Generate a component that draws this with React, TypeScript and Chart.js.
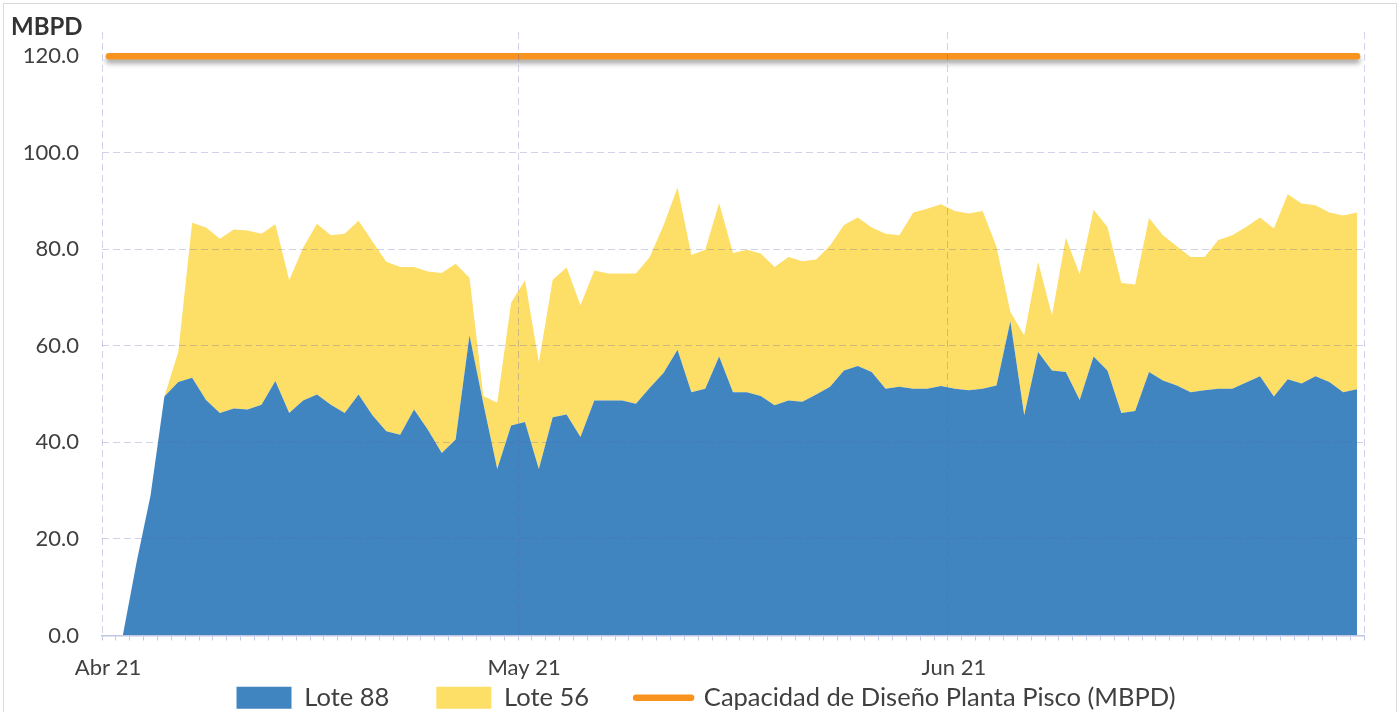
import React, { useEffect, useRef } from 'react';
import { Chart, registerables } from 'chart.js';

Chart.register(...registerables);

// ---- Data (MBPD per day, 2 Apr 2021 .. 30 Jun 2021) ----
const firstDayIndex = 1; // days counted from 1 Apr 2021
const lote88 = [
  0, 15.3, 29.0, 49.5, 52.5, 53.4, 48.8, 46.1, 47.0, 46.8,
  47.8, 52.7, 46.1, 48.7, 49.9, 47.8, 46.1, 49.9, 45.6, 42.3,
  41.6, 46.8, 42.6, 37.8, 40.6, 62.2, 48.0, 34.5, 43.5, 44.2,
  34.5, 45.2, 45.8, 41.1, 48.7, 48.7, 48.7, 48.0, 51.3, 54.4,
  59.2, 50.4, 51.1, 57.8, 50.4, 50.4, 49.6, 47.7, 48.7, 48.4,
  49.9, 51.5, 54.9, 55.8, 54.6, 51.1, 51.5, 51.1, 51.1, 51.7,
  51.1, 50.8, 51.1, 51.8, 65.1, 45.6, 58.7, 54.9, 54.6, 48.8,
  57.8, 54.9, 46.1, 46.5, 54.6, 52.8, 51.8, 50.4, 50.8, 51.1,
  51.1, 52.4, 53.7, 49.5, 53.1, 52.2, 53.7, 52.5, 50.4, 51.0,
];
const lote56 = [
  0, 0, 0, 0, 6.2, 32.1, 35.7, 36.1, 37.1, 37.1,
  35.4, 32.5, 27.5, 31.6, 35.4, 35.1, 37.1, 36.0, 36.0, 35.1,
  34.7, 29.5, 32.8, 37.3, 36.4, 11.9, 1.6, 13.7, 25.4, 29.4,
  22.1, 28.5, 30.4, 27.3, 26.9, 26.3, 26.3, 27.0, 27.1, 30.6,
  33.6, 28.4, 28.8, 31.8, 28.8, 29.5, 29.5, 28.6, 29.7, 29.1,
  28.0, 29.3, 30.1, 30.8, 29.9, 32.1, 31.4, 36.5, 37.3, 37.6,
  36.8, 36.6, 36.8, 28.7, 1.9, 16.6, 18.7, 11.4, 27.8, 26.0,
  30.4, 29.7, 26.9, 26.2, 31.9, 30.1, 28.8, 28.0, 27.6, 30.8,
  31.8, 32.2, 32.9, 34.8, 38.3, 37.3, 35.4, 35.1, 36.6, 36.6,
];
const capacidadDiseno = 120; // MBPD, constant design capacity
const capacidadFirstDay = 0;
const capacidadLastDay = 90;

// ---- Axis / labels ----
const totalDays = 91; // 1 Apr .. 1 Jul
const monthTickDays = [0, 30, 61, 91];
const monthTickLabels = ['Abr 21', 'May 21', 'Jun 21', ''];
const yTickValues = [0, 20, 40, 60, 80, 100, 120];
const yMax = 125;
const seriesLabels = ['Lote 88', 'Lote 56', 'Capacidad de Diseño Planta Pisco (MBPD)'];
const yUnit = 'MBPD';

// ---- Styles ----
const FONT = 'Lato, "Open Sans", "DejaVu Sans", sans-serif';
const BLUE = '#4185C0';
const YELLOW = '#FDDE66';
const ORANGE = '#F7931E';
const GRID = 'rgba(90, 90, 175, 0.28)';
const AXIS = '#BFC6E4';
const TEXT = '#404040';

const unitLabelPlugin = {
  id: 'unitLabel',
  afterDraw(chart: any) {
    const ctx = chart.ctx;
    ctx.save();
    ctx.font = `bold 24px ${FONT}`;
    ctx.fillStyle = '#333333';
    ctx.textAlign = 'left';
    ctx.textBaseline = 'middle';
    ctx.fillText(yUnit, 11, 27);
    ctx.restore();
  },
};

const lineShadowPlugin = {
  id: 'lineShadow',
  beforeDatasetDraw(chart: any, args: any) {
    if (args.index !== 2) return;
    const ctx = chart.ctx;
    ctx.save();
    ctx.shadowColor = 'rgba(0,0,0,0.35)';
    ctx.shadowBlur = 5;
    ctx.shadowOffsetY = 4;
  },
  afterDatasetDraw(chart: any, args: any) {
    if (args.index !== 2) return;
    chart.ctx.restore();
  },
};

// legend: reserve little layout space, then place it in the bottom band
const LEGEND_HEIGHT = 30.5;
const LEGEND_TOP = 638;
const LEGEND_SHIFT_X = 24;
const legendPlacePlugin = {
  id: 'legendPlace',
  beforeLayout(chart: any) {
    const lg = chart.legend;
    if (lg && !lg.__patched) {
      const orig = lg.fit.bind(lg);
      lg.fit = function () {
        orig();
        this.height = LEGEND_HEIGHT;
      };
      lg.__patched = true;
    }
  },
  afterLayout(chart: any) {
    const lg = chart.legend;
    if (!lg) return;
    lg.top = LEGEND_TOP;
    lg.bottom = chart.height;
    lg.height = chart.height - LEGEND_TOP;
    lg.left += LEGEND_SHIFT_X;
    lg.right += LEGEND_SHIFT_X;
  },
};

export default function App() {
  const ref = useRef<HTMLCanvasElement>(null);

  useEffect(() => {
    if (!ref.current) return;
    const pts88 = lote88.map((v, i) => ({ x: firstDayIndex + i + 0.5, y: v }));
    const pts56 = lote56.map((v, i) => ({ x: firstDayIndex + i + 0.5, y: v }));
    const capPts: { x: number; y: number }[] = [];
    for (let d = capacidadFirstDay; d <= capacidadLastDay; d++) capPts.push({ x: d + 0.5, y: capacidadDiseno });

    const chart = new Chart(ref.current, {
      type: 'line',
      data: {
        datasets: [
          {
            label: seriesLabels[0],
            data: pts88,
            backgroundColor: BLUE,
            borderColor: 'transparent',
            borderWidth: 0,
            fill: 'origin',
            pointRadius: 0,
            pointBorderWidth: 0,
            pointStyle: 'rect',
            tension: 0,
            stack: 'prod',
          },
          {
            label: seriesLabels[1],
            data: pts56,
            backgroundColor: YELLOW,
            borderColor: 'transparent',
            borderWidth: 0,
            fill: '-1',
            pointRadius: 0,
            pointBorderWidth: 0,
            pointStyle: 'rect',
            tension: 0,
            stack: 'prod',
          },
          {
            label: seriesLabels[2],
            data: capPts,
            backgroundColor: ORANGE,
            borderColor: ORANGE,
            borderWidth: 6.5,
            borderCapStyle: 'round',
            fill: false,
            pointRadius: 0,
            pointStyle: 'line',
            tension: 0,
            stack: 'cap',
          },
        ] as any,
      },
      options: {
        animation: false,
        responsive: false,
        devicePixelRatio: 1,
        events: [],
        layout: { padding: { left: 0, right: 36, top: 32, bottom: 0 } },
        plugins: {
          tooltip: { enabled: false },
          title: { display: false },
          legend: {
            position: 'bottom',
            align: 'center',
            labels: {
              usePointStyle: true,
              pointStyleWidth: 55,
              boxHeight: 22,
              padding: 47,
              color: TEXT,
              font: { family: FONT, size: 25.5 },
              generateLabels: (c: any) => {
                const items = (Chart.defaults.plugins.legend.labels as any).generateLabels(c);
                items.forEach((it: any) => {
                  const ds: any = c.data.datasets[it.datasetIndex];
                  if (ds.pointStyle === 'line') {
                    it.lineWidth = ds.borderWidth;
                    it.lineCap = 'round';
                    it.strokeStyle = ds.borderColor;
                  } else {
                    it.lineWidth = 0;
                    it.fillStyle = ds.backgroundColor;
                  }
                });
                return items;
              },
            },
          },
        },
        scales: {
          x: {
            type: 'linear',
            min: 0,
            max: totalDays,
            afterBuildTicks: (axis: any) => {
              const t = [];
              for (let d = 0; d <= totalDays; d++) t.push({ value: d });
              axis.ticks = t;
            },
            afterFit: (axis: any) => {
              axis.height = 46;
            },
            ticks: {
              autoSkip: false,
              maxRotation: 0,
              minRotation: 0,
              padding: 14,
              labelOffset: 6,
              color: TEXT,
              font: { family: FONT, size: 22 },
              callback: (v: any) => {
                const i = monthTickDays.indexOf(Number(v));
                return i >= 0 ? monthTickLabels[i] : '';
              },
            },
            grid: {
              color: (c: any) => (c.tick && monthTickDays.includes(c.tick.value) ? GRID : 'transparent'),
              lineWidth: 1,
              tickColor: AXIS,
              tickLength: 5,
              tickWidth: 1,
              z: 1,
            },
            border: { display: true, color: AXIS, width: 1.5, dash: [7, 4], z: 1 },
          } as any,
          y: {
            stacked: true,
            min: 0,
            max: yMax,
            afterBuildTicks: (axis: any) => {
              axis.ticks = yTickValues.map((v) => ({ value: v }));
            },
            afterFit: (axis: any) => {
              axis.width = 102;
              axis.paddingTop = 0;
              axis.paddingBottom = 0;
            },
            ticks: {
              padding: 23,
              color: TEXT,
              font: { family: FONT, size: 22 },
              callback: (v: any) => Number(v).toFixed(1),
            },
            grid: {
              color: (c: any) => (c.tick && (c.tick.value === 0 || c.tick.value === 120) ? 'transparent' : GRID),
              drawTicks: false,
              lineWidth: 1,
              z: 1,
            },
            border: { display: false, dash: [7, 4] },
          } as any,
        },
      } as any,
      plugins: [unitLabelPlugin, lineShadowPlugin, legendPlacePlugin],
    });

    let alive = true;
    if ((document as any).fonts && (document as any).fonts.ready) {
      (document as any).fonts.ready.then(() => {
        if (alive) chart.update('none');
      });
    }
    return () => {
      alive = false;
      chart.destroy();
    };
  }, []);

  return (
    <div
      style={{
        position: 'fixed',
        left: 0,
        top: 0,
        width: 1400,
        height: 712,
        background: '#ffffff',
        overflow: 'hidden',
      }}
    >
      <canvas ref={ref} width={1400} height={712} style={{ display: 'block' }} />
      <div
        style={{
          position: 'absolute',
          left: 3,
          top: 3,
          width: 1394,
          height: 760,
          border: '1px solid #D9D9D9',
          boxSizing: 'border-box',
          pointerEvents: 'none',
        }}
      />
    </div>
  );
}
